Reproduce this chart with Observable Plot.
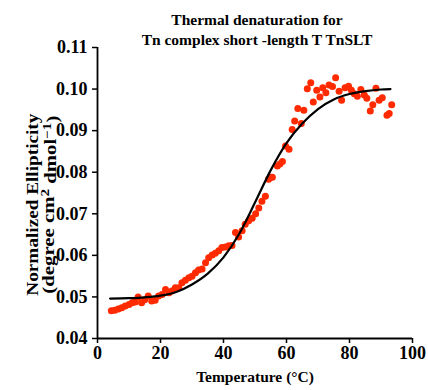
<!DOCTYPE html>
<html>
<head>
<meta charset="utf-8">
<script src="https://cdn.jsdelivr.net/npm/d3@7"></script>
<script src="https://cdn.jsdelivr.net/npm/@observablehq/plot@0.6"></script>
<style>
  html, body { margin: 0; padding: 0; background: #fff; }
</style>
</head>
<body>
<div id="chart"></div>
<script>
const titleLines = ["Thermal denaturation for", "Tn complex short -length T TnSLT"];
const xLabel = "Temperature (°C)";
const yLabel1 = "Normalized Ellipticity";
const yLabel2 = "(degree cm2 dmol-1)";
const xTicks = [0, 20, 40, 60, 80, 100];
const yTicks = [0.04, 0.05, 0.06, 0.07, 0.08, 0.09, 0.10, 0.11];

const temps = [4.4, 5.5, 6.6, 7.7, 8.8, 10, 11, 12, 12.9, 14, 15, 16.1, 17.2, 18.3, 19.4, 20.5, 21.6, 22.7, 23.6, 24.7,
  25.8, 26.8, 27.9, 29, 30, 31.1, 32.1, 33.2, 34.3, 35.3, 36.4, 37.4, 38.5, 39.5, 40.6, 41.7, 42.7, 43.8, 44.8, 45.9,
  46.9, 48, 49.1, 50.2, 51.2, 52.2, 53.3, 54.3, 54.9, 55.5, 57.1, 57.9, 58.7, 59.7, 60.8, 61.8, 62.6, 63.6, 64.7, 65.5,
  66.6, 67.7, 68.5, 69.6, 70.6, 71.5, 72.5, 73.5, 74.6, 75.6, 76.7, 77.5, 78.6, 79.7, 80.6, 81.5, 82.5, 83.6, 84.7, 85.5,
  86.6, 87.4, 88.4, 89.4, 90.4, 91.9, 92.6, 93.4];
const ellipticity = [0.0467, 0.0468, 0.0471, 0.0474, 0.0478, 0.0482, 0.0486, 0.0488, 0.0500, 0.0486, 0.0493, 0.0502, 0.0490, 0.0492, 0.0502, 0.0506, 0.0518, 0.0510, 0.0514, 0.0522,
  0.0522, 0.0534, 0.0540, 0.0546, 0.0550, 0.0558, 0.0565, 0.0567, 0.0582, 0.0594, 0.0601, 0.0605, 0.0611, 0.0619, 0.0620, 0.0623, 0.0624, 0.0655, 0.0644, 0.0659,
  0.0675, 0.0683, 0.0689, 0.0700, 0.0714, 0.0730, 0.0742, 0.0783, 0.0788, 0.0788, 0.0815, 0.0820, 0.0826, 0.0863, 0.0855, 0.0903, 0.0923, 0.0953, 0.0917, 0.0949,
  0.1001, 0.1015, 0.0969, 0.0997, 0.0981, 0.1003, 0.0991, 0.1010, 0.1006, 0.1027, 0.0995, 0.0973, 0.1003, 0.1007, 0.0997, 0.0989, 0.0983, 0.0999, 0.0986, 0.0978,
  0.0947, 0.0962, 0.1002, 0.0973, 0.0979, 0.0937, 0.0941, 0.0962];

const fitTemps = [4, 10, 15, 20, 25, 30, 35, 40, 45, 50, 55, 60, 65, 70, 75, 80, 85, 90, 93];
const fitValues = [0.0496, 0.0497, 0.0499, 0.0503, 0.0512, 0.0530, 0.0556, 0.0595, 0.0652, 0.0727,
  0.0805, 0.0870, 0.0917, 0.0952, 0.0975, 0.0988, 0.0995, 0.0999, 0.1000];

const points = temps.map((t, i) => ({t, v: ellipticity[i]}));
const fit = fitTemps.map((t, i) => ({t, v: fitValues[i]}));

const font = "'Liberation Serif', 'Times New Roman', serif";

const chart = Plot.plot({
  width: 428,
  height: 390,
  marginLeft: 97,
  marginRight: 16,
  marginTop: 47,
  marginBottom: 52,
  style: {fontFamily: font, fontWeight: "bold", fontSize: "16px", color: "#000", background: "#fff"},
  x: {domain: [0, 100]},
  y: {domain: [0.04, 0.11]},
  marks: [
    Plot.axisX({ticks: xTicks, tickSize: 5, tickPadding: 3, tickFormat: d3.format("d"), label: null, fontSize: 18, fontWeight: "bold", strokeWidth: 1.5}),
    Plot.axisY({ticks: yTicks, tickSize: 5, tickPadding: 5, tickFormat: d3.format(".2f"), label: null, fontSize: 18, fontWeight: "bold", strokeWidth: 1.5}),
    Plot.ruleX([0], {stroke: "#000", strokeWidth: 1.8}),
    Plot.ruleY([0.04], {stroke: "#000", strokeWidth: 1.8}),
    Plot.dot(points, {x: "t", y: "v", r: 3.5, fill: "#ff2a00", stroke: "none"}),
    Plot.line(fit, {x: "t", y: "v", stroke: "#000", strokeWidth: 2.2, curve: "monotone-x"}),
    Plot.text([titleLines[0]], {frameAnchor: "top", dx: 2, dy: -34, fontSize: 15.5, fontWeight: "bold", fill: "#000"}),
    Plot.text([titleLines[1]], {frameAnchor: "top", dx: 2, dy: -14, fontSize: 15.5, fontWeight: "bold", fill: "#000"}),
    Plot.text([xLabel], {frameAnchor: "bottom", dy: 43, fontSize: 15.5, fontWeight: "bold", fill: "#000"}),
    Plot.text([yLabel1], {x: () => -20.5, y: () => 0.0722, rotate: -90, fontSize: 16.5, fontWeight: "bold", fill: "#000", clip: false}),
    Plot.text([yLabel2], {x: () => -15.5, y: () => 0.0722, rotate: -90, fontSize: 16.5, fontWeight: "bold", fill: "#000", clip: false})
  ]
});

const svg = d3.select(chart);
svg.selectAll("text").style("font-family", font).style("font-weight", "bold");

// y label: match reference length and add superscripts
svg.selectAll("text").each(function() {
  const t = d3.select(this);
  if (this.textContent === yLabel1) {
    t.attr("textLength", 182).attr("lengthAdjust", "spacingAndGlyphs");
  }
  if (this.textContent === yLabel2) {
    t.text(null);
    t.append("tspan").text("(degree cm");
    t.append("tspan").attr("dy", "-0.45em").attr("font-size", "12").text("2");
    t.append("tspan").attr("dy", "0.45em").text(" dmol");
    t.append("tspan").attr("dy", "-0.45em").attr("font-size", "12").text("−1");
    t.append("tspan").attr("dy", "0.45em").text(")");
    t.attr("textLength", 178).attr("lengthAdjust", "spacingAndGlyphs");
  }
});

document.getElementById("chart").appendChild(chart);
</script>
</body>
</html>
